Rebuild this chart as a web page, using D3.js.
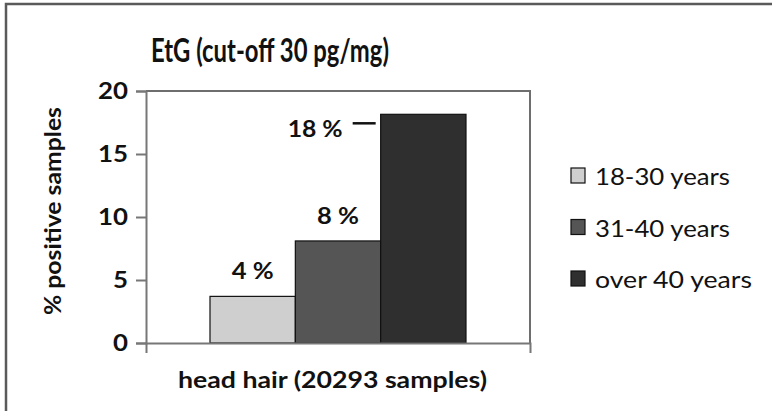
<!DOCTYPE html>
<html>
<head>
<meta charset="utf-8">
<script src="https://cdn.jsdelivr.net/npm/d3@7"></script>
<style>
  html, body { margin: 0; padding: 0; background: #fff; }
  svg { display: block; font-family: Lato, "Open Sans", sans-serif; }
</style>
</head>
<body>
<svg id="chart" width="772" height="411"></svg>
<script>
const categories = ["head hair (20293 samples)"];
const seriesNames = ["18-30 years", "31-40 years", "over 40 years"];
const seriesValues = [3.7, 8.1, 18.15];
const valueLabels = ["4 %", "8 %", "18 %"];
const yTicks = [0, 5, 10, 15, 20];
const colors = ["#cfcfcf", "#555555", "#2f2f2f"];

const svg = d3.select("#chart");
const W = 772, H = 411;
const m = { left: 146, right: 530, top: 91, bottom: 343 };
const FONT = "Lato, 'Open Sans', sans-serif";

function label(parent, x, yy, str, size, weight, width) {
  return parent.append("text").attr("x", x).attr("y", yy)
    .attr("font-size", size).attr("font-weight", weight)
    .attr("font-family", FONT).attr("fill", "#111")
    .attr("textLength", width).attr("lengthAdjust", "spacingAndGlyphs")
    .text(str);
}

// outer frame
svg.append("rect").attr("x", 6).attr("y", 4).attr("width", W + 20).attr("height", H + 20)
  .attr("fill", "none").attr("stroke", "#5a5a5a").attr("stroke-width", 2.5);

// title
label(svg, 151, 62, "EtG (cut-off 30 pg/mg)", 32, "bold", 238);

const y = d3.scaleLinear().domain([0, 20]).range([m.bottom, m.top]);
const x0 = d3.scaleBand().domain(categories).range([m.left, m.right]).paddingInner(0).paddingOuter(0);
const groupFrac = 3 / 4.5;
const x1 = d3.scaleBand().domain(seriesNames).range([0, x0.bandwidth() * groupFrac]);
const groupOffset = x0.bandwidth() * (1 - groupFrac) / 2;

// plot area border (top & right)
svg.append("path")
  .attr("d", `M${m.left},${m.top}H${m.right}V${m.bottom}`)
  .attr("fill", "none").attr("stroke", "#6e6e6e").attr("stroke-width", 2);

// bars
const g = svg.append("g");
seriesValues.forEach((v, i) => {
  const bx = x0(categories[0]) + groupOffset + x1(seriesNames[i]);
  g.append("rect")
    .attr("x", bx).attr("y", y(v))
    .attr("width", x1.bandwidth()).attr("height", y(0) - y(v))
    .attr("fill", colors[i]).attr("stroke", "#111").attr("stroke-width", 1.2);
});

// y axis
const yAxis = d3.axisLeft(y).tickValues(yTicks).tickSize(10).tickFormat("");
const ya = svg.append("g").attr("transform", `translate(${m.left},0)`).call(yAxis);
ya.select(".domain").attr("stroke", "#777").attr("stroke-width", 2);
ya.selectAll(".tick line").attr("stroke", "#777").attr("stroke-width", 2);
yTicks.forEach(t => {
  const s = String(t);
  const w = 15 * s.length;
  label(svg, 128 - w, y(t) + 8, s, 22, "bold", w);
});

// x axis
const xAxis = d3.axisBottom(x0).tickValues([]).tickSizeOuter(10);
const xa = svg.append("g").attr("transform", `translate(0,${m.bottom})`).call(xAxis);
xa.select(".domain").attr("stroke", "#777").attr("stroke-width", 2);
{
  const cx = x0(categories[0]) + x0.bandwidth() / 2 - 5.5;
  label(svg, cx - 154.5, 388, categories[0], 23, "bold", 309);
}

// y title
{
  const gt = svg.append("g").attr("transform", `translate(61,211) rotate(-90)`);
  label(gt, -104, 0, "% positive samples", 22, "bold", 208);
}

// value labels
seriesValues.forEach((v, i) => {
  const bx = x0(categories[0]) + groupOffset + x1(seriesNames[i]);
  if (i < 2) {
    label(svg, bx + x1.bandwidth() / 2 - 21, y(v) - 17, valueLabels[i], 23, "bold", 42);
  } else {
    label(svg, bx - 38 - 55, y(v) + 23, valueLabels[i], 23, "bold", 55);
    svg.append("line").attr("x1", bx - 28).attr("x2", bx - 5)
      .attr("y1", y(v) + 9).attr("y2", y(v) + 9)
      .attr("stroke", "#111").attr("stroke-width", 2.5);
  }
});

// legend
const legW = [135, 135, 157];
const leg = svg.append("g");
seriesNames.forEach((s, i) => {
  const base = 185 + i * 51.5;
  leg.append("rect").attr("x", 571).attr("y", base - 17).attr("width", 14).attr("height", 15)
    .attr("fill", colors[i]).attr("stroke", "#111").attr("stroke-width", 1.2);
  label(leg, 595, base, s, 23, "normal", legW[i]);
});
</script>
</body>
</html>
